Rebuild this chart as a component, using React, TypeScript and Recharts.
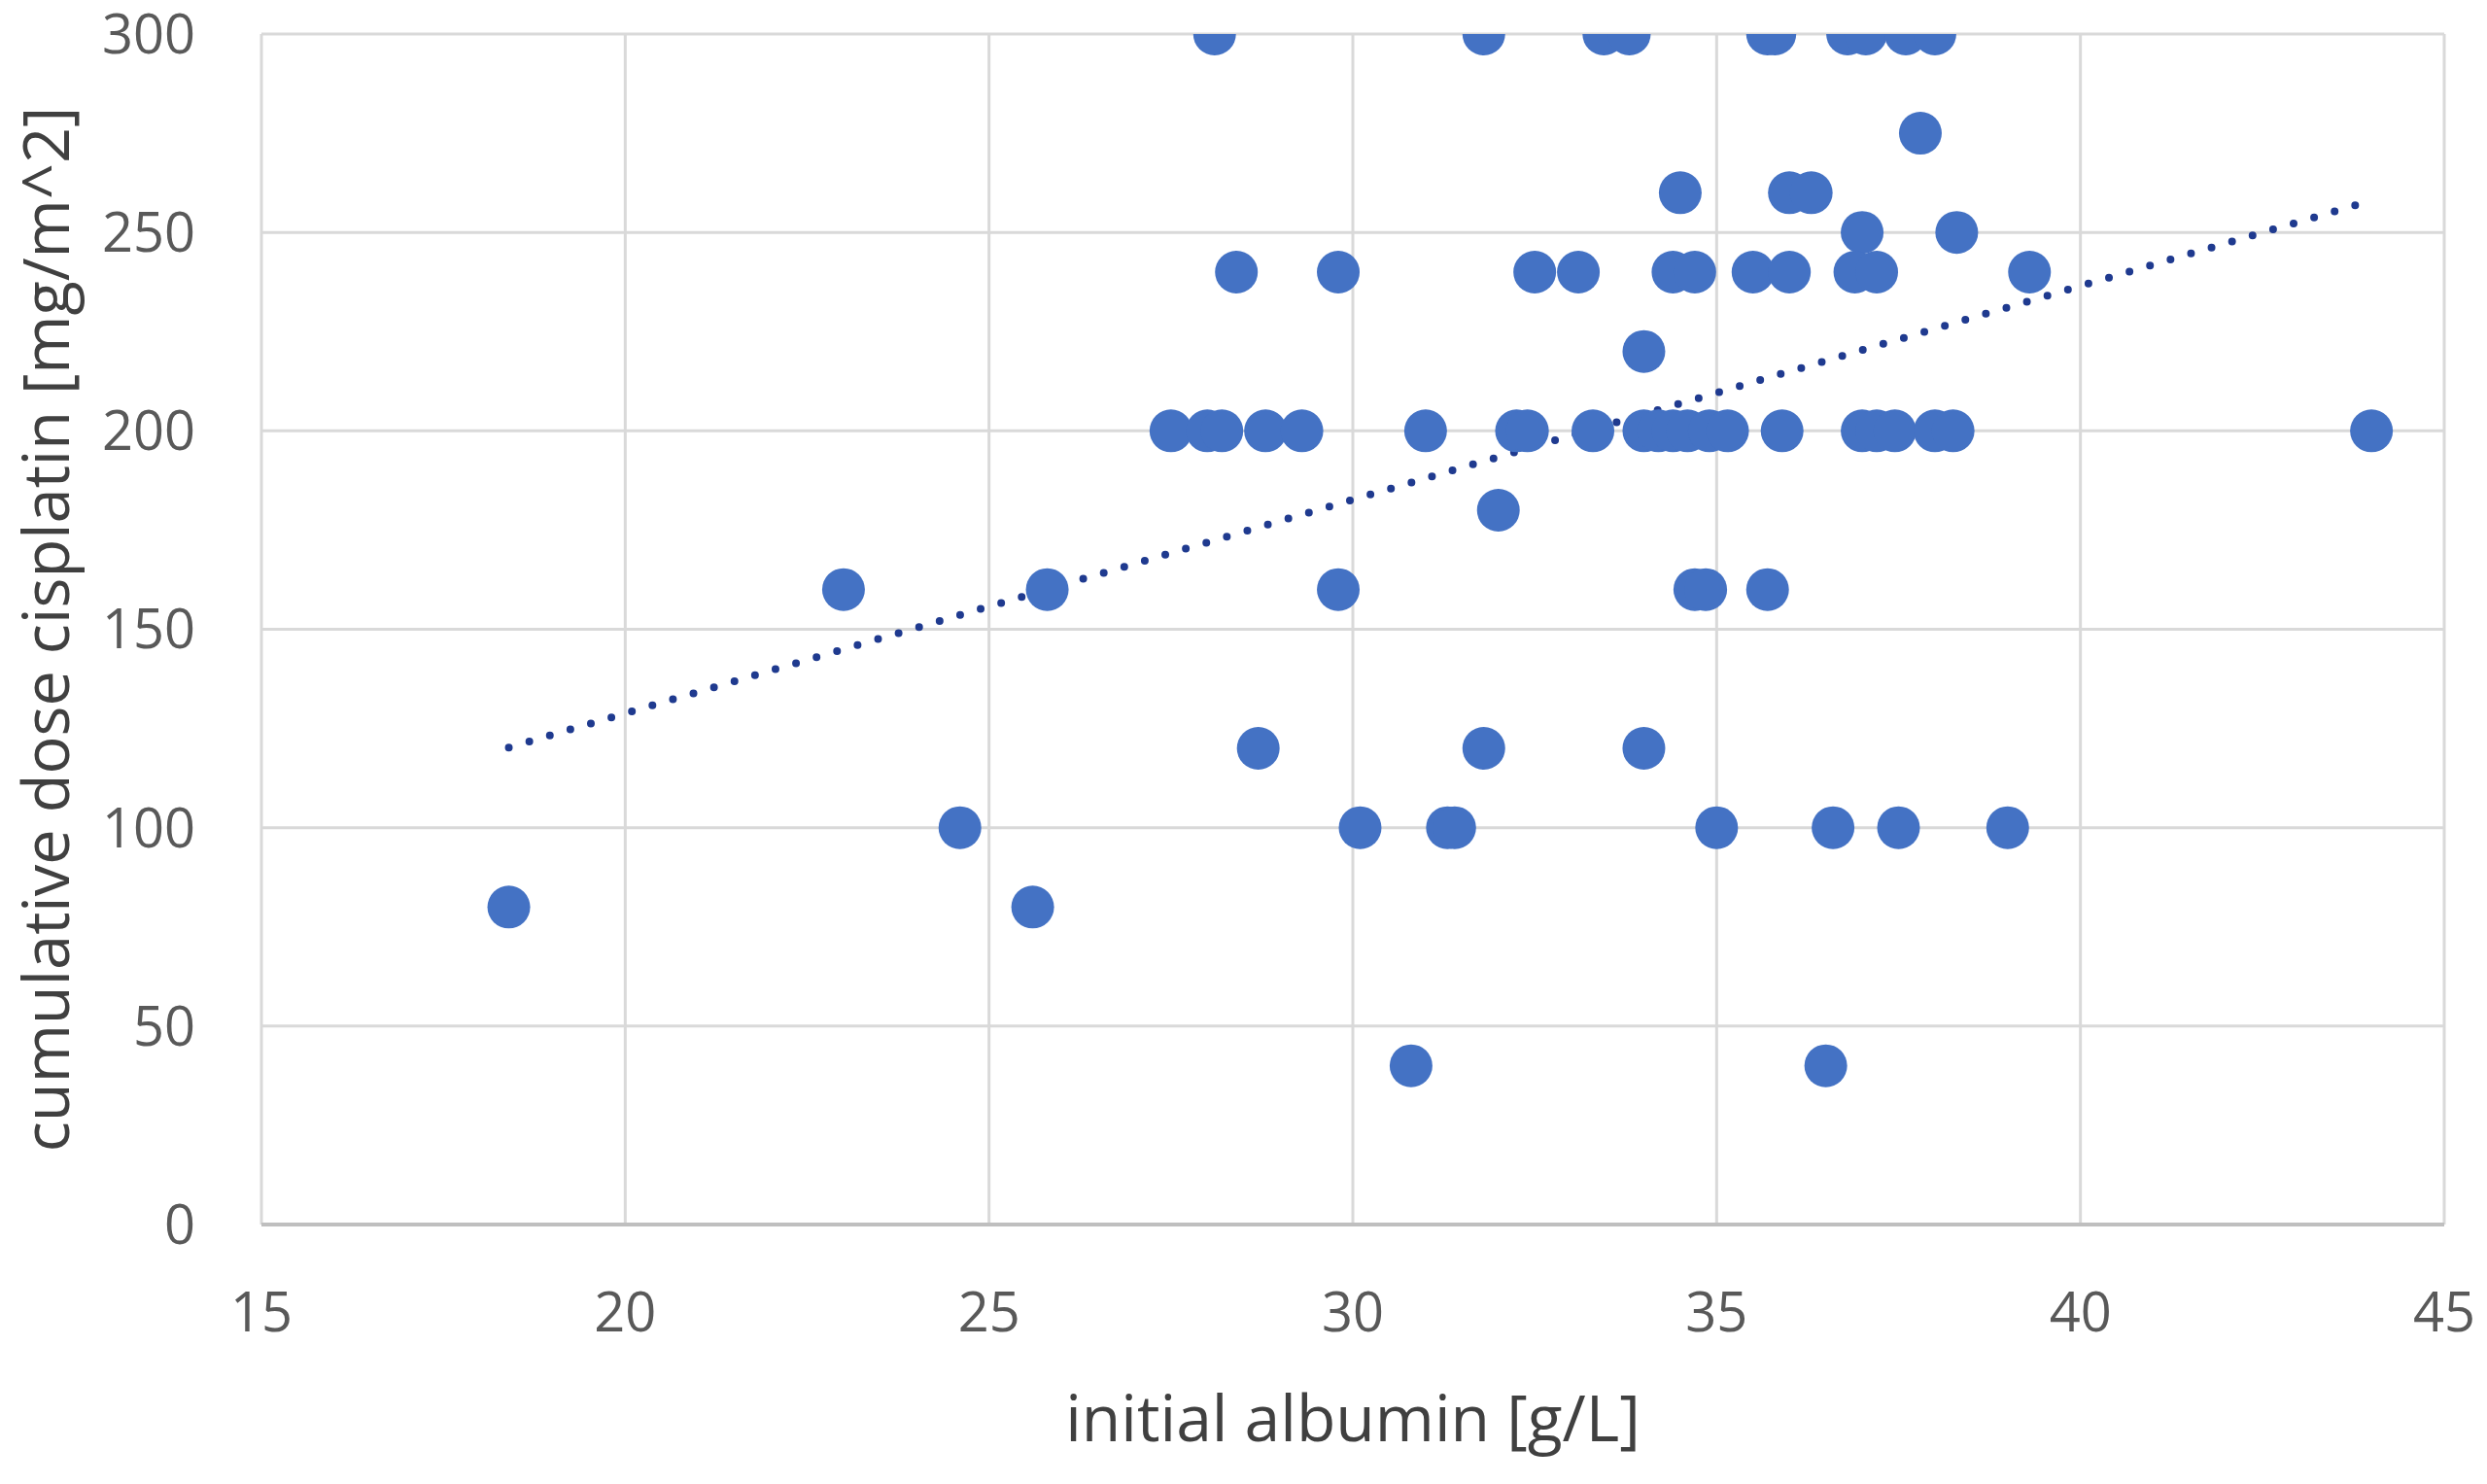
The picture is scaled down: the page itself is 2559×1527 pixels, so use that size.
import React from "react";
import { ScatterChart, Scatter, XAxis, YAxis, CartesianGrid, ReferenceLine, Label } from "recharts";

// initial albumin [g/L] per patient, grouped roughly by dose row
const albumin = [
  28.1, 31.8, 33.45, 33.8, 35.7, 35.8, 36.8, 37.05, 37.6, 38.0,
  37.8,
  34.5, 36.0, 36.3,
  37.0, 38.3,
  28.4, 29.8, 32.5, 33.1, 34.4, 34.7, 35.5, 36.0, 36.9, 37.2, 39.3,
  34.0,
  27.5, 28.0, 28.2, 28.8, 29.3, 31.0, 32.25, 32.4, 33.3, 34.0, 34.2, 34.4, 34.6, 34.9, 35.15, 35.9, 37.0, 37.2, 37.45, 38.0, 38.25, 44.0,
  32.0,
  23.0, 25.8, 29.8, 34.7, 34.85, 35.7,
  28.7, 31.8, 34.0,
  24.6, 30.1, 31.3, 31.4, 35.0, 36.6, 37.5, 39.0,
  18.4, 25.6,
  30.8, 36.5,
];

// cumulative dose cisplatin [mg/m^2], same order as albumin
const dose = [
  300, 300, 300, 300, 300, 300, 300, 300, 300, 300,
  275,
  260, 260, 260,
  250, 250,
  240, 240, 240, 240, 240, 240, 240, 240, 240, 240, 240,
  220,
  200, 200, 200, 200, 200, 200, 200, 200, 200, 200, 200, 200, 200, 200, 200, 200, 200, 200, 200, 200, 200, 200,
  180,
  160, 160, 160, 160, 160, 160,
  120, 120, 120,
  100, 100, 100, 100, 100, 100, 100, 100,
  80, 80,
  40, 40,
];

// linear trendline end points
const trendX = [18.4, 43.9];
const trendY = [120.2, 257.5];

const xTicks = [15, 20, 25, 30, 35, 40, 45];
const yTicks = [0, 50, 100, 150, 200, 250, 300];

const points = albumin.map((x, i) => ({ x, y: dose[i] }));

const FONT = "'Open Sans', 'Noto Sans', sans-serif";

const Dot = (props: any) => {
  const { cx, cy } = props;
  if (cx == null || cy == null) return null;
  return <circle cx={cx} cy={cy} r={22} fill="#4472C4" />;
};

export default function App() {
  return (
    <div style={{ position: "absolute", left: 0, top: 0, width: 2559, height: 1527, background: "#fff" }}>
      <ScatterChart width={2559} height={1527} margin={{ top: 35, right: 44, bottom: 0, left: 0 }}>
        <CartesianGrid stroke="#D9D9D9" strokeWidth={3} />
        <XAxis
          type="number"
          dataKey="x"
          domain={[15, 45]}
          ticks={xTicks}
          height={267}
          tickSize={0}
          tickLine={false}
          tickMargin={70}
          axisLine={{ stroke: "#BFBFBF", strokeWidth: 4 }}
          tick={{ fill: "#595959", fontSize: 56, fontFamily: FONT }}
          allowDataOverflow
        >
          <Label
            content={(p: any) => {
              const vb = p.viewBox;
              return (
                <text x={vb.x + vb.width / 2} y={vb.y + 223} textAnchor="middle" fill="#404040" fontSize={66} fontFamily={FONT}>
                  initial albumin [g/L]
                </text>
              );
            }}
          />
        </XAxis>
        <YAxis
          type="number"
          dataKey="y"
          domain={[0, 300]}
          ticks={yTicks}
          width={269}
          tickSize={0}
          tickLine={false}
          tickMargin={68}
          axisLine={false}
          tick={{ fill: "#595959", fontSize: 56, fontFamily: FONT }}
          allowDataOverflow
        >
          <Label
            content={(p: any) => {
              const vb = p.viewBox;
              const x = vb.x + 71;
              const y = vb.y + vb.height / 2;
              return (
                <text x={x} y={y} transform={`rotate(-90, ${x}, ${y})`} textAnchor="middle" fill="#404040" fontSize={65} fontFamily={FONT}>
                  cumulative dose cisplatin [mg/m^2]
                </text>
              );
            }}
          />
        </YAxis>
        <Scatter data={points} shape={Dot} isAnimationActive={false} />
        <ReferenceLine
          segment={[
            { x: trendX[0], y: trendY[0] },
            { x: trendX[1], y: trendY[1] },
          ]}
          stroke="#1F3A8F"
          strokeWidth={8}
          strokeDasharray="0 22"
          strokeLinecap="round"
        />
      </ScatterChart>
    </div>
  );
}
